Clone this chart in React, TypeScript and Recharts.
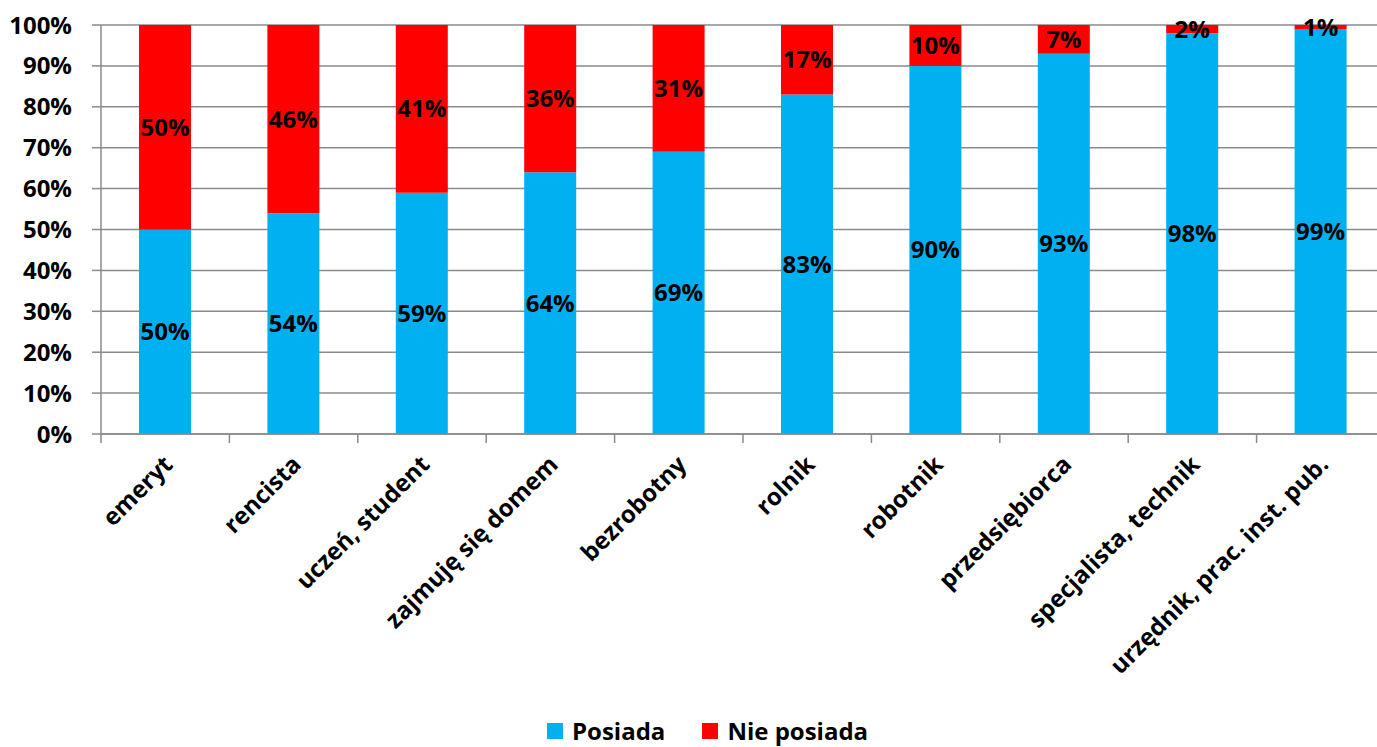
import { BarChart, Bar, XAxis, YAxis, CartesianGrid, Legend, LabelList } from "recharts";

const categories = [
  "emeryt",
  "rencista",
  "uczeń, student",
  "zajmuję się domem",
  "bezrobotny",
  "rolnik",
  "robotnik",
  "przedsiębiorca",
  "specjalista, technik",
  "urzędnik, prac. inst. pub.",
];
const posiada = [50, 54, 59, 64, 69, 83, 90, 93, 98, 99];
const niePosiada = [50, 46, 41, 36, 31, 17, 10, 7, 2, 1];
const yTicks = [0, 10, 20, 30, 40, 50, 60, 70, 80, 90, 100];

const data = categories.map((name, i) => ({ name, posiada: posiada[i], niePosiada: niePosiada[i] }));

const FONT = "'Open Sans', Lato, sans-serif";
const BLUE = "#00B0F0";
const RED = "#FF0000";
const GRID = "#8a8a8a";

// rotated category label plus the divider tick on the left edge of each band
function CategoryTick({ x, y, payload }: any) {
  const half = payload.offset ?? 64;
  const axisY = y - 8;
  const ax = x + 9;
  const ay = y + 24;
  return (
    <g>
      <line x1={x - half} x2={x - half} y1={axisY} y2={axisY + 9} stroke={GRID} strokeWidth={1.5} />
      <text
        x={ax}
        y={ay}
        transform={`rotate(-45, ${ax}, ${ay})`}
        textAnchor="end"
        fontFamily={FONT}
        fontWeight={700}
        fontSize={24}
        fill="#000"
      >
        {payload.value}
      </text>
    </g>
  );
}

function LegendBox() {
  const item = (color: string, label: string) => (
    <div style={{ display: "flex", alignItems: "center", marginRight: 37 }}>
      <div style={{ width: 16, height: 16, background: color, marginRight: 9 }} />
      <span style={{ fontFamily: FONT, fontWeight: 700, fontSize: 24, lineHeight: "32px", color: "#000" }}>{label}</span>
    </div>
  );
  return (
    <div style={{ display: "flex", height: 32, alignItems: "center", paddingLeft: 547 }}>
      {item(BLUE, "Posiada")}
      {item(RED, "Nie posiada")}
    </div>
  );
}

const labelStyle = { fontFamily: FONT, fontWeight: 700, fontSize: 24, fill: "#000" };

export default function App() {
  return (
    <div style={{ position: "absolute", left: 0, top: 0, width: 1377, height: 747, overflow: "hidden", background: "#fff" }}>
      <BarChart width={1400} height={747} data={data} margin={{ top: 25, right: 15, left: 0, bottom: 0 }}>
        <CartesianGrid vertical={false} stroke={GRID} strokeWidth={1.5} />
        <XAxis
          dataKey="name"
          interval={0}
          height={281}
          axisLine={{ stroke: GRID, strokeWidth: 1.5 }}
          tickLine={false}
          tick={<CategoryTick />}
        />
        <YAxis
          width={101}
          domain={[0, 100]}
          ticks={yTicks}
          tickFormatter={(v) => `${v}%`}
          axisLine={{ stroke: GRID, strokeWidth: 1.5 }}
          tickLine={{ stroke: GRID, strokeWidth: 1.5 }}
          tickSize={9}
          tickMargin={20}
          tick={labelStyle}
        />
        <Legend verticalAlign="bottom" content={<LegendBox />} wrapperStyle={{ left: 0, width: 1400, bottom: 0 }} />
        <Bar dataKey="posiada" stackId="a" fill={BLUE} barSize={52} isAnimationActive={false}>
          <LabelList dataKey="posiada" position="center" formatter={(v: any) => `${v}%`} style={labelStyle} />
        </Bar>
        <Bar dataKey="niePosiada" stackId="a" fill={RED} barSize={52} isAnimationActive={false}>
          <LabelList dataKey="niePosiada" position="center" formatter={(v: any) => `${v}%`} style={labelStyle} />
        </Bar>
      </BarChart>
    </div>
  );
}
